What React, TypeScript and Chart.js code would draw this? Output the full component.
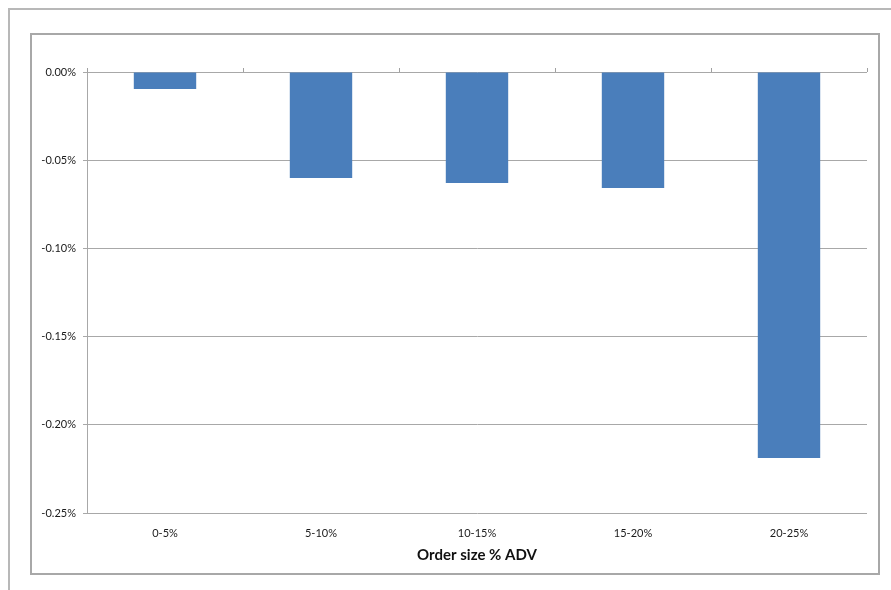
import React, { useEffect, useRef } from "react";
import { Chart, registerables } from "chart.js";

Chart.register(...registerables);

const categories = ["0-5%", "5-10%", "10-15%", "15-20%", "20-25%"];
const values = [-0.0096, -0.0601, -0.0629, -0.0658, -0.2188];
const yTicks = [0, -0.05, -0.1, -0.15, -0.2, -0.25];
const xTitle = "Order size % ADV";

const framePlugin = {
  id: "frames",
  beforeDraw(chart: any) {
    const ctx = chart.ctx;
    ctx.save();
    ctx.fillStyle = "#ffffff";
    ctx.fillRect(0, 0, chart.width, chart.height);
    // outer frame
    ctx.strokeStyle = "#b8b8b8";
    ctx.lineWidth = 2;
    ctx.beginPath();
    ctx.moveTo(9, chart.height);
    ctx.lineTo(9, 9);
    ctx.lineTo(chart.width, 9);
    ctx.stroke();
    // inner chart box
    ctx.strokeStyle = "#a8a8a8";
    ctx.lineWidth = 2;
    ctx.strokeRect(31, 34, 848, 540);
    ctx.restore();
  },
  afterDatasetsDraw(chart: any) {
    const ctx = chart.ctx;
    const xs = chart.scales.x;
    const ys = chart.scales.y;
    const y0 = ys.getPixelForValue(0);
    const n = categories.length;
    ctx.save();
    ctx.strokeStyle = "#a0a0a0";
    ctx.lineWidth = 1;
    ctx.beginPath();
    for (let k = 0; k <= n; k++) {
      const x = Math.round(xs.left + (k * (xs.right - xs.left)) / n) + 0.5;
      ctx.moveTo(x, y0);
      ctx.lineTo(x, y0 - 4);
    }
    ctx.stroke();
    ctx.restore();
  },
};

export default function App() {
  const ref = useRef<HTMLCanvasElement | null>(null);
  useEffect(() => {
    if (!ref.current) return;
    const chart = new Chart(ref.current, {
      type: "bar",
      data: {
        labels: categories,
        datasets: [
          {
            data: values,
            backgroundColor: "#4a7ebb",
            borderWidth: 0,
            barPercentage: 0.4,
            categoryPercentage: 1,
          },
        ],
      },
      options: {
        responsive: false,
        animation: false,
        layout: { padding: { left: 27, top: 72, right: 24, bottom: 16 } },
        plugins: {
          legend: { display: false },
          tooltip: { enabled: false },
          title: { display: false },
        },
        scales: {
          x: {
            grid: { display: false },
            border: { display: false },
            ticks: {
              padding: 6,
              color: "#1a1a1a",
              font: { family: "Lato", size: 11 },
              maxRotation: 0,
            },
            title: {
              display: true,
              text: xTitle,
              color: "#111",
              font: { family: "Lato", size: 15, weight: "bold" },
              padding: { top: 4, bottom: 10 },
            },
            afterFit(s: any) {
              s.height = 61;
            },
          },
          y: {
            min: -0.25,
            max: 0,
            afterBuildTicks(s: any) {
              s.ticks = yTicks.map((v) => ({ value: v }));
            },
            grid: {
              color: "#a8a8a8",
              lineWidth: 1,
              drawTicks: true,
              tickLength: 4,
              tickColor: "#a8a8a8",
            },
            border: { display: true, color: "#a8a8a8", width: 1 },
            ticks: {
              padding: 7,
              color: "#1a1a1a",
              font: { family: "Lato", size: 11 },
              callback: (v: any) => Number(v).toFixed(2) + "%",
            },
            afterFit(s: any) {
              s.width = 60;
            },
          },
        },
      },
      plugins: [framePlugin],
    });
    return () => chart.destroy();
  }, []);
  return (
    <div style={{ position: "fixed", left: 0, top: 0, width: 891, height: 590, background: "#fff" }}>
      <canvas ref={ref} width={891} height={590} style={{ display: "block" }} />
    </div>
  );
}
